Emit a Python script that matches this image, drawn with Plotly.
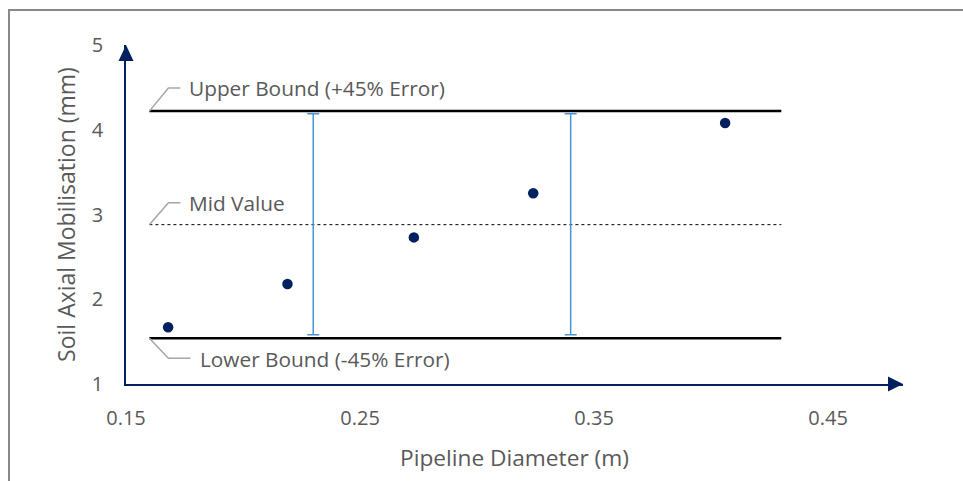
import plotly.graph_objects as go

# ---- data ----
diameters = [0.168, 0.219, 0.273, 0.324, 0.406]
mobilisation = [1.67, 2.18, 2.73, 3.25, 4.08]

bound_x = [0.16, 0.43]
upper_bound = 4.22
mid_value = 2.88
lower_bound = 1.54

ebar_x = [0.23, 0.34]
ebar_low = [1.58, 1.58]
ebar_high = [4.19, 4.19]

x_ticks = [0.15, 0.25, 0.35, 0.45]
x_tick_labels = ["0.15", "0.25", "0.35", "0.45"]
y_ticks = [1, 2, 3, 4, 5]

labels = ["Upper Bound (+45% Error)", "Mid Value", "Lower Bound (-45% Error)"]

NAVY = "#002060"
GRAY_TXT = "#595959"
FONT = "Open Sans"

W, H = 963, 481
L, R, T, B = 126, 60, 45, 97
PW, PH = W - L - R, H - T - B

fig = go.Figure()

# bound lines
fig.add_trace(go.Scatter(x=bound_x, y=[upper_bound] * 2, mode="lines",
                         line=dict(color="black", width=2.5), hoverinfo="skip"))
fig.add_trace(go.Scatter(x=bound_x, y=[lower_bound] * 2, mode="lines",
                         line=dict(color="black", width=2.5), hoverinfo="skip"))
fig.add_trace(go.Scatter(x=bound_x, y=[mid_value] * 2, mode="lines",
                         line=dict(color="black", width=1, dash="dot"), hoverinfo="skip"))

# error bars
centers = [(lo + hi) / 2 for lo, hi in zip(ebar_low, ebar_high)]
fig.add_trace(go.Scatter(
    x=ebar_x, y=centers, mode="markers", marker=dict(size=0.1, color="rgba(0,0,0,0)"),
    error_y=dict(type="data", symmetric=False,
                 array=[h - c for h, c in zip(ebar_high, centers)],
                 arrayminus=[c - l for l, c in zip(ebar_low, centers)],
                 color="#4a94d4", thickness=1.5, width=6)))

# data points
fig.add_trace(go.Scatter(x=diameters, y=mobilisation, mode="markers",
                         marker=dict(size=10.5, color=NAVY)))

# arrowheads at the axis ends (paper coords, pixel-sized so they are not clipped)
fig.add_shape(type="path", xref="paper", yref="paper", xsizemode="pixel", ysizemode="pixel",
              xanchor=1, yanchor=0, path="M 0 0 L -15 7.5 L -15 -7.5 Z",
              fillcolor=NAVY, line=dict(width=0))
fig.add_shape(type="path", xref="paper", yref="paper", xsizemode="pixel", ysizemode="pixel",
              xanchor=0, yanchor=1, path="M 0 0 L -7.5 -16 L 7.5 -16 Z",
              fillcolor=NAVY, line=dict(width=0))

# leader lines + labels
leader_y = [upper_bound, mid_value, lower_bound]
leader_paths = ["M 0 0 L 19 23 L 31 23", "M 0 0 L 19 22 L 31 22", "M 0 0 L 19 -20 L 41 -20"]
text_dx = [40, 40, 51]
text_dy = [23, 22, -21]
for lab, yv, p, dx, dy in zip(labels, leader_y, leader_paths, text_dx, text_dy):
    fig.add_shape(type="path", xref="x", yref="y", xsizemode="pixel", ysizemode="pixel",
                  xanchor=bound_x[0], yanchor=yv, path=p,
                  line=dict(color="#a6a6a6", width=1.5))
    fig.add_annotation(x=bound_x[0], y=yv, xref="x", yref="y", text=lab, showarrow=False,
                       xanchor="left", yanchor="middle", xshift=dx - 2, yshift=dy,
                       font=dict(family=FONT, size=20.8, color=GRAY_TXT))

# outer frame (only left and top edges fall inside the picture)
fig.add_shape(type="rect", xref="paper", yref="paper",
              x0=(9 - L) / PW, y0=-(H - T - PH + 20) / PH, x1=(W + 20 - L) / PW, y1=(T + PH - 10) / PH,
              line=dict(color="#888888", width=2), layer="below")

fig.update_layout(
    width=W, height=H,
    margin=dict(l=L, r=R, t=T, b=B),
    paper_bgcolor="white", plot_bgcolor="white",
    showlegend=False,
    font=dict(family=FONT, color=GRAY_TXT, size=20),
    xaxis=dict(range=[0.15, 0.482], tickvals=x_ticks, ticktext=x_tick_labels,
               showgrid=False, zeroline=False, showline=True, linecolor=NAVY, linewidth=1.5,
               ticks="", ticklabelstandoff=15, tickfont=dict(size=20, color=GRAY_TXT),
               title=dict(text="Pipeline Diameter (m)", standoff=20,
                          font=dict(size=22.7, color=GRAY_TXT))),
    yaxis=dict(range=[1, 5], tickvals=y_ticks, showgrid=False, zeroline=False,
               showline=True, linecolor=NAVY, linewidth=1.5,
               ticks="", ticklabelstandoff=17,
               tickfont=dict(size=20, color=GRAY_TXT),
               title=dict(text="Soil Axial Mobilisation (mm)", standoff=10,
                          font=dict(size=23, color=GRAY_TXT))),
)

fig.write_html("out.html")
